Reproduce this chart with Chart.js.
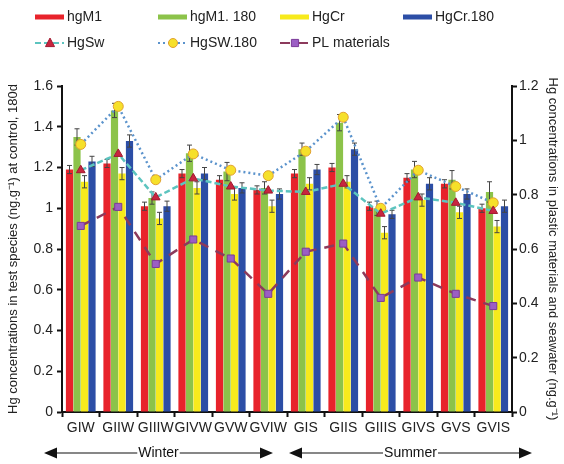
<!DOCTYPE html>
<html>
<head>
<meta charset="utf-8">
<title>Hg concentrations</title>
<style>
  html, body { margin: 0; padding: 0; background: #fff; }
  #wrap { width: 564px; height: 464px; }
</style>
</head>
<body>
<div id="wrap"><canvas id="myChart"></canvas></div>

<script src="https://cdn.jsdelivr.net/npm/chart.js"></script>
<script>
    // groups (W = winter, S = summer)
    const groups = ['GIW', 'GIIW', 'GIIIW', 'GIVW', 'GVW', 'GVIW', 'GIS', 'GIIS', 'GIIIS', 'GIVS', 'GVS', 'GVIS'];

    // test species, left axis
    const hgM1     = [1.19, 1.22, 1.01, 1.17, 1.14, 1.09, 1.17, 1.20, 1.01, 1.15, 1.12, 1.00];
    const hgM1_180 = [1.35, 1.48, 1.05, 1.27, 1.18, 1.10, 1.29, 1.42, 1.00, 1.19, 1.14, 1.08];
    const hgCr     = [1.13, 1.17, 0.95, 1.10, 1.07, 1.01, 1.12, 1.13, 0.88, 1.04, 0.98, 0.91];
    const hgCr180  = [1.23, 1.33, 1.01, 1.17, 1.10, 1.07, 1.19, 1.29, 0.97, 1.12, 1.07, 1.01];

    // error bars
    const errM1     = [0.02, 0.02, 0.02, 0.02, 0.02, 0.02, 0.02, 0.02, 0.02, 0.02, 0.02, 0.02];
    const errM1_180 = [0.04, 0.035, 0.03, 0.04, 0.045, 0.03, 0.03, 0.04, 0.035, 0.04, 0.045, 0.05];
    const errCr     = [0.03, 0.03, 0.03, 0.03, 0.03, 0.03, 0.03, 0.03, 0.03, 0.03, 0.03, 0.03];
    const errCr180  = [0.025, 0.03, 0.025, 0.03, 0.025, 0.025, 0.025, 0.03, 0.02, 0.03, 0.025, 0.03];

    // seawater + plastic, right axis
    const hgSw        = [0.89, 0.95, 0.79, 0.86, 0.83, 0.815, 0.81, 0.84, 0.73, 0.79, 0.77, 0.74];
    const hgSw180     = [0.985, 1.125, 0.855, 0.95, 0.89, 0.87, 0.96, 1.085, 0.75, 0.89, 0.83, 0.77];
    const plMaterials = [0.685, 0.755, 0.545, 0.635, 0.565, 0.435, 0.59, 0.62, 0.42, 0.495, 0.435, 0.39];

    const seasons = ['Winter', 'Summer'];

    const FONT = 'Liberation Sans, Arial, sans-serif';

    function bar(label, data, err, color) {
        return {
            type: 'bar', label: label, data: data, err: err,
            backgroundColor: color, yAxisID: 'y', order: 2,
            categoryPercentage: 0.8, barPercentage: 0.96
        };
    }

    function line(label, data, color, dash, style, fill, border) {
        return {
            type: 'line', label: label, data: data, yAxisID: 'y1', order: 1,
            borderColor: color, borderWidth: 2.5, borderDash: dash, fill: false,
            pointStyle: style, pointRadius: 5, pointBackgroundColor: fill,
            pointBorderColor: border, pointBorderWidth: 1
        };
    }

    const datasets = [
        bar('hgM1', hgM1, errM1, '#e8232b'),
        bar('hgM1. 180', hgM1_180, errM1_180, '#8cc34a'),
        bar('HgCr', hgCr, errCr, '#f7ea1c'),
        bar('HgCr.180', hgCr180, errCr180, '#2c4ea6'),
        line('HgSw', hgSw, '#5cc4bf', [6, 3], 'triangle', '#c8253f', '#a01a30'),
        line('HgSW.180', hgSw180, '#5b93cc', [2, 3], 'circle', '#f6e02a', '#e0a030'),
        line('PL materials', plMaterials, '#8c3a5c', [10, 8], 'rect', '#9b5ec4', '#7a3a9a')
    ];

    function marker(ctx, style, x, y, r, fill, border) {
        ctx.save();
        ctx.setLineDash([]);
        ctx.fillStyle = fill;
        ctx.strokeStyle = border;
        ctx.lineWidth = 1;
        ctx.beginPath();
        if (style === 'circle') {
            ctx.arc(x, y, r, 0, Math.PI * 2);
        } else if (style === 'triangle') {
            ctx.moveTo(x, y - r * 1.1);
            ctx.lineTo(x + r, y + r * 0.8);
            ctx.lineTo(x - r, y + r * 0.8);
            ctx.closePath();
        } else {
            ctx.rect(x - r * 0.8, y - r * 0.8, r * 1.6, r * 1.6);
        }
        ctx.fill();
        ctx.stroke();
        ctx.restore();
    }

    // legend laid out in 4 columns like the figure
    const legendPlugin = {
        id: 'gridLegend',
        afterDraw(chart) {
            const ctx = chart.ctx;
            const cols = [35, 158, 280, 403];
            const rows = [17, 43];
            ctx.save();
            ctx.font = '14px ' + FONT;
            ctx.textBaseline = 'middle';
            chart.data.datasets.forEach(function(ds, i) {
                const x = cols[i % 4];
                const y = rows[Math.floor(i / 4)];
                if (ds.type === 'bar') {
                    ctx.fillStyle = ds.backgroundColor;
                    ctx.fillRect(x, y - 2.5, 29, 5);
                } else {
                    ctx.strokeStyle = ds.borderColor;
                    ctx.lineWidth = 2;
                    ctx.setLineDash(ds.borderDash);
                    ctx.beginPath();
                    ctx.moveTo(x, y);
                    ctx.lineTo(x + 29, y);
                    ctx.stroke();
                    ctx.setLineDash([]);
                    marker(ctx, ds.pointStyle, x + 15, y, 4.5, ds.pointBackgroundColor, ds.pointBorderColor);
                }
                ctx.fillStyle = '#222';
                ctx.fillText(ds.label, x + 32, y);
            });
            ctx.restore();
        }
    };

    // error bars on the bar datasets
    const errorPlugin = {
        id: 'errorBars',
        afterDatasetDraw(chart, args) {
            const ds = chart.data.datasets[args.index];
            if (!ds.err) return;
            const ctx = chart.ctx;
            const yScale = chart.scales.y;
            ctx.save();
            ctx.strokeStyle = '#444';
            ctx.lineWidth = 1;
            args.meta.data.forEach(function(el, j) {
                const top = yScale.getPixelForValue(ds.data[j] + ds.err[j]);
                const bot = yScale.getPixelForValue(ds.data[j] - ds.err[j]);
                ctx.beginPath();
                ctx.moveTo(el.x, top);
                ctx.lineTo(el.x, bot);
                ctx.moveTo(el.x - 2.5, top);
                ctx.lineTo(el.x + 2.5, top);
                ctx.moveTo(el.x - 2.5, bot);
                ctx.lineTo(el.x + 2.5, bot);
                ctx.stroke();
            });
            ctx.restore();
        }
    };

    // Winter / Summer arrows under the x axis
    const seasonPlugin = {
        id: 'seasons',
        afterDraw(chart) {
            const ctx = chart.ctx;
            const xs = chart.scales.x;
            const half = (xs.getPixelForValue(1) - xs.getPixelForValue(0)) / 2;
            const y = 453;
            const spans = [
                [xs.getPixelForValue(0) - half - 18, xs.getPixelForValue(5) + half - 14],
                [xs.getPixelForValue(6) - half + 2, xs.getPixelForValue(11) + half + 20]
            ];
            ctx.save();
            ctx.font = '14px ' + FONT;
            ctx.textAlign = 'center';
            ctx.textBaseline = 'middle';
            ctx.strokeStyle = '#111';
            ctx.fillStyle = '#111';
            ctx.lineWidth = 1.2;
            spans.forEach(function(s, i) {
                const mid = (s[0] + s[1]) / 2;
                const tw = ctx.measureText(seasons[i]).width / 2 + 1;
                ctx.beginPath();
                ctx.moveTo(s[0] + 10, y);
                ctx.lineTo(mid - tw, y);
                ctx.moveTo(mid + tw, y);
                ctx.lineTo(s[1] - 10, y);
                ctx.stroke();
                ctx.beginPath();
                ctx.moveTo(s[0], y);
                ctx.lineTo(s[0] + 13, y - 5.5);
                ctx.lineTo(s[0] + 13, y + 5.5);
                ctx.closePath();
                ctx.moveTo(s[1], y);
                ctx.lineTo(s[1] - 13, y - 5.5);
                ctx.lineTo(s[1] - 13, y + 5.5);
                ctx.closePath();
                ctx.fill();
                ctx.fillText(seasons[i], mid, y);
            });
            ctx.restore();
        }
    };

    const axisBorder = { display: true, color: '#111', width: 2 };
    const fmt = function(v) { return String(+v.toFixed(1)); };

    const config = {
        data: { labels: groups, datasets: datasets },
        plugins: [errorPlugin, legendPlugin, seasonPlugin],
        options: {
            responsive: false,
            animation: false,
            layout: { padding: { top: 86, left: 0, right: 0, bottom: 0 } },
            plugins: {
                legend: { display: false },
                tooltip: { enabled: false }
            },
            scales: {
                x: {
                    border: axisBorder,
                    grid: { display: true, drawOnChartArea: false, drawTicks: true, tickLength: 5, tickWidth: 2, tickColor: '#111', offset: true },
                    ticks: { color: '#222', font: { family: FONT, size: 14 }, padding: 3, maxRotation: 0, autoSkip: false },
                    afterFit(s) { s.height = 52; }
                },
                y: {
                    position: 'left', min: 0, max: 1.6,
                    border: axisBorder,
                    grid: { display: true, drawOnChartArea: false, tickLength: 5, tickWidth: 2, tickColor: '#111' },
                    ticks: { stepSize: 0.2, color: '#222', font: { family: FONT, size: 14 }, padding: 4, callback: fmt },
                    title: {
                        display: true, color: '#222', font: { family: FONT, size: 13 },
                        padding: { top: 6, bottom: 0 },
                        text: 'Hg concentrations in test species (ng.g\u207B\u00B9) at control, 180d'
                    },
                    afterFit(s) { s.width = 62; }
                },
                y1: {
                    position: 'right', min: 0, max: 1.2,
                    border: axisBorder,
                    grid: { display: true, drawOnChartArea: false, tickLength: 5, tickWidth: 2, tickColor: '#111' },
                    ticks: { stepSize: 0.2, color: '#222', font: { family: FONT, size: 14 }, padding: 2, callback: fmt },
                    title: {
                        display: true, color: '#222', font: { family: FONT, size: 13 },
                        padding: { top: 4, bottom: 0 },
                        text: 'Hg concentrations in plastic materials and seawater (ng.g\u207B\u00B9)'
                    },
                    afterFit(s) { s.width = 52; }
                }
            }
        }
    };

    const canvas = document.getElementById('myChart');
    canvas.width = 564;
    canvas.height = 464;
    const myChart = new Chart(canvas, config);
</script>
</body>
</html>
